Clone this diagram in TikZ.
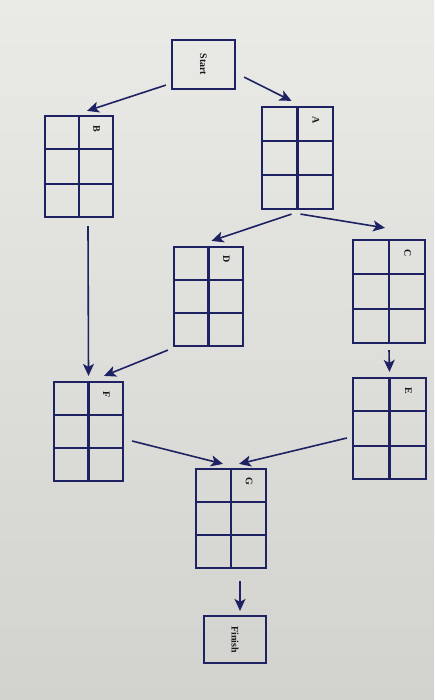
\documentclass[tikz,border=0pt]{standalone}
\usepackage{fontspec}
\setmainfont{Liberation Serif}
\usetikzlibrary{calc,arrows.meta}
\definecolor{navy}{RGB}{30,34,98}
\definecolor{bgtop}{RGB}{234,234,230}
\definecolor{bgbot}{RGB}{210,210,207}
\tikzset{
  gbox/.style={draw=navy, line width=2.2pt, inner sep=0pt},
  gline/.style={draw=navy, line width=2.2pt},
  lbl/.style={rotate=-90, inner sep=0pt, font=\fontsize{10}{12}\selectfont\bfseries, text=black!90},
  conn/.style={draw=navy, line width=1.6pt, -{Stealth[length=12pt,width=11pt,inset=3pt]}},
}
\newcommand{\gridnode}[6]{%
  \node[gbox, minimum width=#4pt, minimum height=#5pt] (#1) at (#2,#3) {};
  \draw[gline] (#1.north) -- (#1.south);
  \draw[gline] ($(#1.north west)!1/3!(#1.south west)$) -- ($(#1.north east)!1/3!(#1.south east)$);
  \draw[gline] ($(#1.north west)!2/3!(#1.south west)$) -- ($(#1.north east)!2/3!(#1.south east)$);
  \node[lbl] (#1-lbl) at ($($(#1.north)!0.5!(#1.north east)$)+(0,{#5/6-3})$) {#6};
}
\begin{document}
\begin{tikzpicture}[x=1pt,y=-1pt]
\useasboundingbox (0,0) rectangle (434,700);
\shade[top color=bgtop, bottom color=bgbot] (0,0) rectangle (434,700);

\node[gbox, minimum width=63pt, minimum height=49pt] (Start) at (203.5,64.5) {};
\node[lbl] (Start-lbl) at (Start.center) {Start};
\node[gbox, minimum width=62pt, minimum height=47pt] (Finish) at (235,639.5) {};
\node[lbl] (Finish-lbl) at (Finish.center) {Finish};

\gridnode{A}{297.5}{158}{71}{102}{A}
\gridnode{B}{79}{166.5}{68}{101}{B}
\gridnode{C}{389}{291.5}{72}{103}{C}
\gridnode{D}{208.5}{296.5}{69}{99}{D}
\gridnode{E}{389.5}{428.5}{73}{101}{E}
\gridnode{F}{88.5}{431.5}{69}{99}{F}
\gridnode{G}{231}{518.5}{70}{99}{G}

\draw[conn] ($(Start.south west)+(-5,-5)$) -- ($(B.north)+(8,-4)$);
\draw[conn] ($(Start.south east)+(8,-13)$) -- ($(A.north)+(-6,-5)$);
\draw[conn] ($(A.south)+(-6,4)$) -- ($(D.north)+(3,-5)$);
\draw[conn] ($(A.south)+(3,4)$) -- ($(C.north)+(-4,-11)$);
\draw[conn] ($(B.south)+(9,8)$) -- ($(F.north)+(0,-5)$);
\draw[conn] ($(D.south west)+(-5,3)$) -- ($(F.north)+(15.5,-5)$);
\draw[conn] ($(C.south)+(0,6)$) -- ($(E.north)+(0,-5)$);
\draw[conn] ($(F.east)+(8,9.5)$) -- ($(G.north)+(-8,-4)$);
\draw[conn] ($(E.west)+(-5,9.5)$) -- ($(G.north)+(8,-4)$);
\draw[conn] ($(G.south)+(9,12)$) -- ($(Finish.north)+(5,-4)$);
\end{tikzpicture}
\end{document}
